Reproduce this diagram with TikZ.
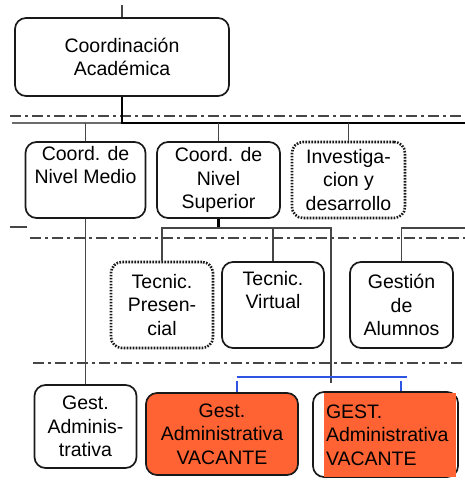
\documentclass[tikz,border=0pt]{standalone}
\usepackage{fontspec}
\setmainfont{Liberation Sans}
\usetikzlibrary{positioning}
\definecolor{vacante}{RGB}{255,99,51}
\definecolor{enlace}{RGB}{45,85,225}
\definecolor{linea}{RGB}{70,70,70}

\begin{document}
\begin{tikzpicture}[x=1pt, y=-1pt, semithick, font=\fontsize{19.5}{23.5}\selectfont]
        \tikzset{
           unidad/.style={
                        rectangle,
                        rounded corners=11pt,
                        draw=black!90,
                        line width=1.7pt,
                        fill=white,
                        text=black,
                        align=center,
                        inner sep=0pt
                       },
           apoyo/.style={
                        unidad,
                        line width=2.6pt,
                        dash pattern=on 1.6pt off 1.4pt
                       },
           vacanteBox/.style={
                        unidad,
                        fill=vacante
                       },
           vacanteRect/.style={
                        rectangle,
                        fill=vacante,
                        text=black,
                        align=left,
                        text width=128pt,
                        inner sep=2pt
                       },
           rama/.style={
                        draw=linea,
                        line width=1.9pt
                       },
           nivel/.style={
                        draw=linea,
                        line width=1.4pt,
                        dash pattern=on 11pt off 4pt on 3pt off 4pt
                       },
           enlace/.style={
                        draw=enlace,
                        line width=1.1pt
                       },
                 }
        \useasboundingbox (0,0) rectangle (465,484);
    %--------------------
        \draw[nivel] (10,116) -- (465,116);
        \draw[rama, linea!80] (12,123) -- (465,123);
        \draw[rama] (10,227) -- (27,227);
        \draw[nivel] (30,238) -- (465,238);
        \draw[nivel] (33,363) -- (465,363);
    %--------------------
        \node[unidad, minimum width=214pt, minimum height=78pt] (coordAcad)  at (122,57)    {Coordinación\\Académica};

        \node[unidad, minimum width=120pt, minimum height=76pt] (nivelMedio) at (85.5,180)  {Coord. de\\Nivel Medio\\\strut};
        \node[unidad, minimum width=123pt, minimum height=76pt] (nivelSup)   at (218.5,180) {Coord. de\\Nivel\\Superior};
        \node[apoyo,  minimum width=113pt, minimum height=76pt] (investig)   at (348.5,180) {Investiga-\\cion y\\desarrollo};

        \node[apoyo,  minimum width=102pt, minimum height=86pt] (tecPres)    at (162,305)   {Tecnic.\\Presen-\\cial};
        \node[unidad, minimum width=102pt, minimum height=86pt] (tecVirt)    at (273,305)   {Tecnic.\\Virtual\\\strut};
        \node[unidad, minimum width=103pt, minimum height=86pt] (gestAlum)   at (401.5,305) {Gestión\\de\\Alumnos};

        \node[unidad, minimum width=102pt, minimum height=83pt] (gestAdm)    at (85.5,426.5) {Gest.\\Adminis-\\trativa};
        \node[vacanteBox, minimum width=152pt, minimum height=82pt] (vacante1) at (222,434) {Gest.\\Administrativa\\VACANTE};
        \node[unidad, minimum width=145pt, minimum height=85pt] (marco2)     at (385.5,434.5) {};
        \node[vacanteRect, minimum height=84pt] (vacante2)                   at (390,435)   {GEST.\\Administrativa\\VACANTE};
    %--------------------
        \coordinate (entrada)   at (122,5);
        \coordinate (bus1)      at (122,123);
        \coordinate (bus1Fin)   at (465,123);
        \coordinate (bus2)      at (218.5,228);
        \coordinate (bajada)    at (331,383);
        \coordinate (alumnosIn) at (465,228);
        \coordinate (brIzq)     at (237,377);
        \coordinate (brDer)     at (407,377);
        \coordinate (brMedio)   at (401,377);

        \draw[rama] (entrada) -- (coordAcad.north);
        \draw[rama, draw=black, line width=2.4pt] (coordAcad.south) -- (bus1) -- (bus1Fin);
        \draw[rama] (bus1 -| nivelMedio.north) -- (nivelMedio.north);
        \draw[rama] (bus1 -| nivelSup.north)   -- (nivelSup.north);
        \draw[rama] (bus1 -| investig.north)   -- (investig.north);

        \draw[rama] (nivelMedio.south) -- (gestAdm.north);
        \draw[rama, draw=black, line width=2.4pt] (nivelSup.south) -- (bus2);
        \draw[rama] (tecPres.north) |- (bajada |- bus2) -- (bajada);
        \draw[rama] (tecVirt.north) -- (tecVirt.north |- bus2);
        \draw[rama] (gestAlum.north) |- (alumnosIn);

        \draw[enlace] (brIzq) -- (brDer);
        \draw[enlace] ([yshift=-4pt]brIzq) -- (brIzq |- vacante1.north);
        \draw[enlace] ([yshift=-4pt]brMedio) -- (brMedio |- marco2.north);
    \end{tikzpicture}
\end{document}
